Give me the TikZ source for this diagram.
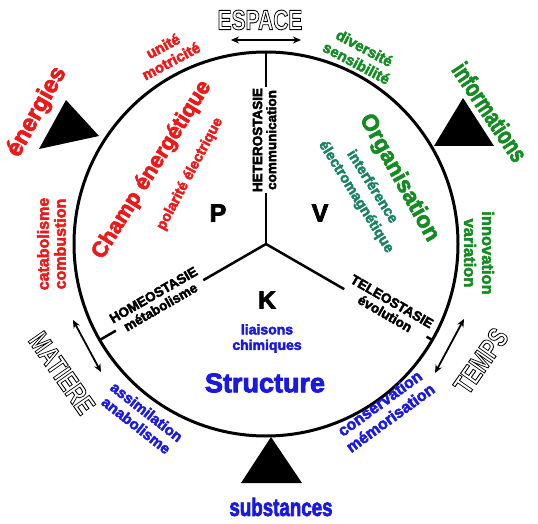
\documentclass[tikz,border=0pt]{standalone}
\usepackage{graphicx}
\usepackage{fontspec}
\setmainfont{Liberation Sans}[BoldFeatures={FakeBold=3}]
\newfontfamily\etroite{Liberation Sans}
\usetikzlibrary{arrows.meta,calc}
\definecolor{rouge}{RGB}{235,25,25}
\definecolor{vert}{RGB}{20,140,35}
\definecolor{bleu}{RGB}{25,25,225}
\definecolor{sarcelle}{RGB}{25,130,100}
\newcommand{\taille}[2]{\fontsize{#1}{#2}\selectfont}
\newcommand{\serre}[1]{\scalebox{0.75}[1]{#1}}
\newcommand{\creux}[1]{\serre{\special{pdf:literal direct 1 Tr 0.9 w 0 G}#1\special{pdf:literal direct 0 Tr}}}
\begin{document}
\begin{tikzpicture}[x=1pt,y=1pt,
  trait/.style={line width=2.5pt},
  fleche/.style={line width=1.8pt,{Stealth[length=8pt,width=7pt]}-{Stealth[length=8pt,width=7pt]}},
  axe/.style={fill=white,inner sep=1pt,align=center,font=\bfseries\taille{13.5}{14}},
  lettre/.style={font=\bfseries\taille{25}{25}},
  mot/.style={align=center,inner sep=0pt,font=\bfseries\taille{15}{17}},
  titre/.style={inner sep=0pt,font=\bfseries\taille{22}{24}},
  creuse/.style={inner sep=0pt,font=\etroite\bfseries\taille{28}{28}},
  flux/.style={inner sep=0pt,font=\bfseries\taille{25}{25}}]
\useasboundingbox (0,0) rectangle (538,523);
% dimensions
\node (espace) [creuse] at (260,503) {\creux{ESPACE}};
\node (matiere) [creuse, rotate=-55] at (62,150) {\creux{MATIERE}};
\node (temps) [creuse, rotate=55] at (481,162) {\creux{TEMPS}};
\coordinate (espaceG) at (231,483);
\coordinate (espaceD) at (301,483);
\coordinate (matiereH) at (73,203);
\coordinate (matiereB) at (101,151);
\coordinate (tempsH) at (464,204);
\coordinate (tempsB) at (435,150);
\draw[fleche] (espaceG) -- (espaceD);
\draw[fleche] (matiereH) -- (matiereB);
\draw[fleche] (tempsH) -- (tempsB);
\coordinate (centre) at (266,279);
\coordinate (haut) at ($(centre)+(90:192)$);
\coordinate (gauche) at ($(centre)+(210:192)$);
\coordinate (droite) at ($(centre)+(330:192)$);
% triangles
\fill (66,423) -- (39,374) -- (99,387) -- cycle;
\fill (463,425) -- (434,377) -- (494,377) -- cycle;
\fill (271,86) -- (241,40) -- (302,40) -- cycle;
% cercle et secteurs
\draw[line width=3pt] (centre) circle (192);
\draw[trait] (centre) -- (haut);
\draw[trait] (centre) -- (gauche);
\draw[trait] (centre) -- (droite);
\node (hetero) [axe, rotate=90] at (264.5,383) {HETEROSTASIE\\communication};
\node (homeo) [axe, rotate=30] at (157,222) {HOMEOSTASIE\\m\'etabolisme};
\node (teleo) [axe, rotate=-30] at (388.5,215.5) {TELEOSTASIE\\\'evolution};
\node (P) [lettre] at (218,310) {P};
\node (V) [lettre] at (320,310) {V};
\node (K) [lettre] at (267,223) {K};
% secteur P
\node (champ) [titre, rouge, rotate=58] at (152,353) {Champ \'energ\'etique};
\node (polarite) [mot, rouge, rotate=62, font=\bfseries\taille{14.5}{16}] at (190,349) {polarit\'e \'electrique};
% secteur V
\node (organisation) [titre, vert, rotate=-61, font=\bfseries\taille{23}{25}] at (399,345) {Organisation};
\node (interference) [mot, sarcelle, rotate=-58, font=\bfseries\taille{14.5}{19}] at (364,331) {interf\'erence\\\'electromagn\'etique};
% secteur K
\node (liaisons) [mot, bleu, font=\bfseries\taille{14}{15.5}] at (267,184.5) {liaisons\\chimiques};
\node (structure) [titre, bleu, font=\bfseries\taille{27}{27}] at (265,140) {Structure};
% autour du cercle
\node (unite) [mot, rouge, rotate=28] at (167,469.5) {unit\'e\\motricit\'e};
\node (diversite) [mot, vert, rotate=-28] at (360.5,467.5) {diversit\'e\\sensibilit\'e};
\node (catabolisme) [mot, rouge, rotate=90, font=\bfseries\taille{16}{17}] at (51.5,279) {catabolisme\\combustion};
\node (innovation) [mot, vert, rotate=-90, font=\bfseries\taille{16.5}{18}] at (479,270) {innovation\\variation};
\node (assimilation) [mot, bleu, rotate=-38] at (141.5,104.5) {assimilation\\anabolisme};
\node (conservation) [mot, bleu, rotate=36, font=\bfseries\taille{16}{18}] at (385,112.5) {conservation\\m\'emorisation};
\node (energies) [titre, rouge, rotate=61, font=\bfseries\taille{24}{24}] at (37,411) {\'energies};
\node (informations) [flux, vert, rotate=-56] at (490,411) {\serre{informations}};
\node (substances) [flux, bleu] at (281,16) {\serre{substances}};
\end{tikzpicture}
\end{document}
